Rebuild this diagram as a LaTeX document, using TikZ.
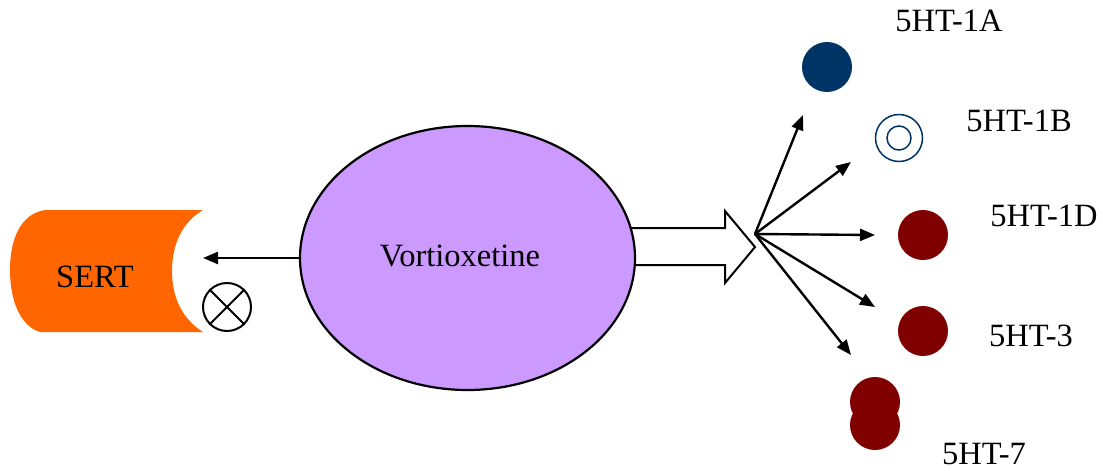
\documentclass[tikz,border=0pt]{standalone}
\usepackage{fontspec}
\setmainfont{Liberation Serif}
\usetikzlibrary{arrows.meta,shapes.geometric}
\definecolor{sertor}{HTML}{FF6600}
\definecolor{vortp}{HTML}{CC99FF}
\definecolor{rblue}{HTML}{003366}
\definecolor{rred}{HTML}{800000}
\tikzset{
  lbl/.style={inner sep=0pt, font=\fontsize{32.5}{34}\selectfont},
  conn/.style={line width=2.4pt, -{Triangle[length=15pt,width=12pt]}},
  dotred/.style={circle, fill=rred, minimum size=50pt, inner sep=0pt},
}
\begin{document}
\begin{tikzpicture}[x=1pt,y=-1pt]
\useasboundingbox (0,0) rectangle (1103,471);
% SERT shape
\fill[sertor] (203,210) -- (45,210) .. controls (20,214) and (10,240) .. (10,270)
  .. controls (10,300) and (20,326) .. (40,332) -- (203,332)
  .. controls (181,318) and (172,296) .. (172,271)
  .. controls (172,246) and (181,223) .. (203,210) -- cycle;
\node[lbl] (sert) at (95,277) {SERT};
\coordinate (serttip) at (203,258);
% crossed circle
\node[circle, draw, line width=2pt, minimum size=48pt, inner sep=0pt] (cross) at (227,307) {};
\draw[line width=2pt] (cross.north west) -- (cross.south east) (cross.north east) -- (cross.south west);
% hollow arrow
\draw[line width=2pt, fill=white, line join=miter] (610,228) -- (725,228) -- (725,211) -- (755,247)
  -- (725,283) -- (725,265) -- (610,265) -- cycle;
% ellipse
\node[ellipse, draw, line width=2.2pt, fill=vortp, minimum width=335pt, minimum height=264pt, inner sep=0pt] (vort) at (467.5,258) {};
\node[lbl] at (460,256) {Vortioxetine};
\draw[conn] (vort.west |- serttip) -- (serttip);
% fan
\coordinate (fan) at (755,234);
\coordinate (t1) at (803,115);
\coordinate (t2) at (851,162);
\coordinate (t3) at (875,235);
\coordinate (t4) at (875,307);
\coordinate (t5) at (851,355);
\foreach \t in {t1,t2,t3,t4,t5} \draw[conn] (fan) -- (\t);
% receptors
\node[circle, fill=rblue, minimum size=50pt, inner sep=0pt] (r1a) at (827,67) {};
\node[circle, draw=rblue, line width=1.5pt, minimum size=47pt, inner sep=0pt] (r1b) at (899,138) {};
\node[circle, draw=rblue, line width=1.5pt, minimum size=24pt, inner sep=0pt] (r1bi) at (r1b) {};
\node[dotred] (r1d) at (923,235) {};
\node[dotred] (r3) at (923,331) {};
\node[dotred] (r7a) at (875,402) {};
\node[dotred] (r7b) at (875,425) {};
% labels
\node[lbl] (l1a) at (949,21) {5HT-1A};
\node[lbl] (l1b) at (1019,121) {5HT-1B};
\node[lbl] (l1d) at (1044,216) {5HT-1D};
\node[lbl] (l3) at (1031,336) {5HT-3};
\node[lbl] (l7) at (984,454.5) {5HT-7};
\end{tikzpicture}
\end{document}
